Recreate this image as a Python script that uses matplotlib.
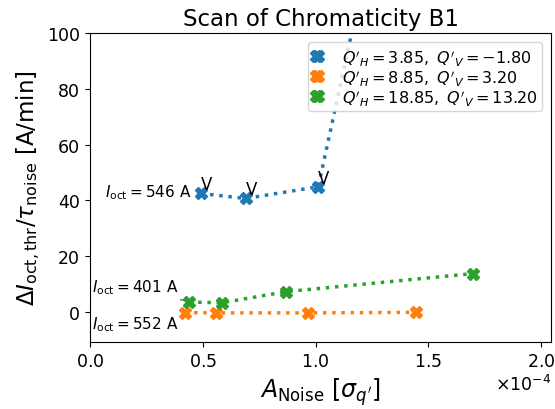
import matplotlib
matplotlib.use("Agg")
import matplotlib.pyplot as plt
from matplotlib.ticker import MultipleLocator

# noise amplitude [sigma_q'] and threshold rate [A/min]
x_b1 = [0.492e-4, 0.690e-4, 1.012e-4, 1.30e-4]
y_b1 = [42.5, 40.7, 44.9, 152.0]
x_b2 = [0.421e-4, 0.557e-4, 0.967e-4, 1.443e-4]
y_b2 = [-0.2, -0.3, -0.3, -0.1]
x_b3 = [0.439e-4, 0.584e-4, 0.869e-4, 1.70e-4]
y_b3 = [3.6, 3.3, 7.3, 13.8]

labels = [r"$Q'_H = 3.85,\ Q'_V = -1.80$",
          r"$Q'_H = 8.85,\ Q'_V = 3.20$",
          r"$Q'_H = 18.85,\ Q'_V = 13.20$"]
colors = ["tab:blue", "tab:orange", "tab:green"]
i_oct = [546, 552, 401]
# which points went vertically unstable
v_flags = [[True, True, True, False], [False] * 4, [False] * 4]


def main():
    fig = plt.figure(figsize=(5.55, 4.1), dpi=100)
    ax = fig.add_axes([0.162, 0.163, 0.831, 0.754])
    series = [(x_b1, y_b1), (x_b2, y_b2), (x_b3, y_b3)]
    for (xs, ys), lab, c, flags in zip(series, labels, colors, v_flags):
        ax.plot(xs, ys, "X:", color=c, lw=2.5, ms=8, label=lab)
        for xv, yv, f in zip(xs, ys, flags):
            if f:
                ax.text(xv, yv, "V", fontsize=12, ha="left", va="bottom")

    # current labels next to the first point of each scan
    ax.annotate(r"$I_{\rm oct} = %d$ A" % i_oct[0], xy=(x_b1[0], y_b1[0]),
                xytext=(0.452e-4, 43.2), fontsize=11,
                ha="right", va="center",
                arrowprops=dict(arrowstyle="-", color=colors[0]))
    ax.annotate(r"$I_{\rm oct} = %d$ A" % i_oct[2], xy=(x_b3[0], y_b3[0]),
                xytext=(0.01e-4, 9.1), fontsize=11, ha="left", va="center",
                arrowprops=dict(arrowstyle="-", color=colors[2]))
    ax.annotate(r"$I_{\rm oct} = %d$ A" % i_oct[1], xy=(x_b2[0], y_b2[0]),
                xytext=(0.01e-4, -4.2), fontsize=11, ha="left", va="center",
                arrowprops=dict(arrowstyle="-", color=colors[1]))

    ax.set_xlim(0, 2.044e-4)
    ax.set_ylim(-10.8, 100)
    ax.xaxis.set_major_locator(MultipleLocator(0.5e-4))
    ax.ticklabel_format(axis="x", style="sci", scilimits=(0, 0),
                        useMathText=True)
    ax.tick_params(labelsize=12.5)
    ax.xaxis.get_offset_text().set_fontsize(12.5)
    ax.set_xlabel(r"$A_{\rm Noise}\ [\sigma_{q'}]$", fontsize=17)
    ax.set_ylabel(r"$\Delta I_{\rm oct,thr}/\tau_{\rm noise}$ [A/min]", fontsize=16.5)
    ax.set_title("Scan of Chromaticity B1", fontsize=16.5)
    ax.legend(loc="upper right", fontsize=11.5, numpoints=2, handlelength=0.5,
              handletextpad=1.3, borderaxespad=0.55, labelspacing=0.0,
              borderpad=0.3)
    fig.savefig("out.png", dpi=100)


if __name__ == "__main__":
    main()
